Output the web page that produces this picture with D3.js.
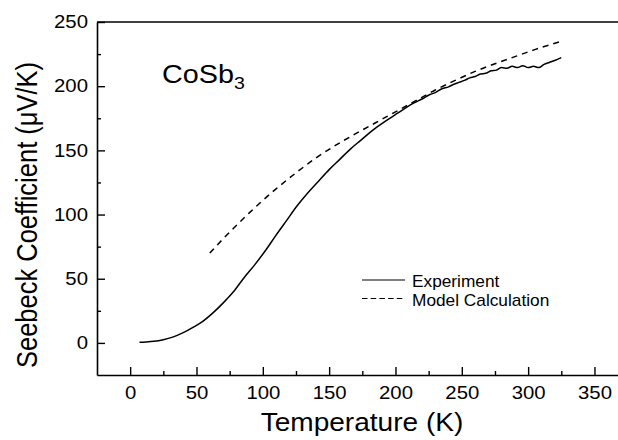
<!DOCTYPE html>
<html>
<head>
<meta charset="utf-8">
<script src="https://cdn.jsdelivr.net/npm/d3@7"></script>
<style>
  body { margin: 0; background: #fff; }
  svg { font-family: "Liberation Sans", Arial, Helvetica, sans-serif; }
</style>
</head>
<body>
<svg width="618" height="440"></svg>
<script>
var expT = [7, 12, 18, 25, 32, 40, 48, 55, 62, 70, 78, 86, 94, 102, 110, 118, 126, 134, 142, 150,
            158, 166, 174, 182, 190, 198, 206, 214, 220, 226, 230, 235, 240, 244, 248, 252, 256,
            260, 264, 268, 272, 276, 280, 284, 288, 292, 296, 300, 304, 308, 312, 316, 320, 325];
var expS = [0.5, 0.7, 1.2, 2.5, 4.5, 8, 12.5, 17, 23, 31, 40, 51, 61, 72, 84, 95.5, 107, 117, 126, 135,
            143, 151, 158, 165, 171, 176.5, 182, 187, 190, 193.5, 195, 198, 199.5, 201.5, 203, 204.5, 206.5,
            207.5, 209.5, 210, 212, 212.5, 214.5, 214, 215.5, 214.5, 216, 214.5, 215.5, 214.5, 217, 218.5, 220, 222.3];

// model calculation
var modT = [60, 70, 80, 90, 100, 110, 125, 140, 155, 170, 185, 200, 215, 230, 245, 260, 275, 290, 305, 325];
var modS = [70, 81, 91.5, 101.5, 111, 120, 132.5, 144, 154, 163, 171.5, 180, 188.5, 197, 204.5, 211.5, 217.5, 223, 228.5, 235];

var xMajor = [0, 50, 100, 150, 200, 250, 300, 350];
var xMinor = [25, 75, 125, 175, 225, 275, 325];
var yMajor = [0, 50, 100, 150, 200, 250];
var yMinor = [25, 75, 125, 175, 225];

var svg = d3.select("svg");
var stretch = 1.13; // the scanned figure is a bit wider than it is tall

var x = d3.scaleLinear().domain([-25, 370]).range([97, 621]),
    y = d3.scaleLinear().domain([-25, 250]).range([375, 22]);

// frame (no right border in the original scan)
svg.append("line")
   .attr("x1", 97).attr("x2", 618).attr("y1", 22).attr("y2", 22)
   .attr("stroke", "#000").attr("stroke-width", 1.6);

// bottom axis, ticks pointing inward
svg.append("g").attr("transform", "translate(0,375)")
   .call(d3.axisBottom(x).tickValues(xMajor).tickSizeInner(-8).tickSizeOuter(0).tickPadding(11));
svg.append("g").attr("transform", "translate(0,375)")
   .call(d3.axisBottom(x).tickValues(xMinor).tickSizeInner(-4).tickSizeOuter(0).tickFormat(""))
   .select(".domain").remove();

svg.append("g").attr("transform", "translate(97,0)")
   .call(d3.axisLeft(y).tickValues(yMajor).tickSizeInner(-8).tickSizeOuter(0).tickPadding(8));
svg.append("g").attr("transform", "translate(97,0)")
   .call(d3.axisLeft(y).tickValues(yMinor).tickSizeInner(-4).tickSizeOuter(0).tickFormat(""))
   .select(".domain").remove();

svg.selectAll(".domain").attr("stroke-width", 1.6);
svg.selectAll(".tick line").attr("stroke-width", 1.4);
svg.selectAll(".tick text")
   .attr("font-size", 18)
   .attr("font-family", "Liberation Sans, Arial, sans-serif")
   .attr("fill", "#000")
   .attr("transform", "scale(" + stretch + ",1)");

// axis titles
svg.append("text")
   .attr("transform", "translate(362,431) scale(1.1,1)")
   .attr("text-anchor", "middle").attr("font-size", 25.5)
   .text("Temperature (K)");

svg.append("text")
   .attr("transform", "translate(37,215) scale(1.15,1) rotate(-90)")
   .attr("text-anchor", "middle").attr("font-size", 25.5)
   .text("Seebeck Coefficient (\u03BCV/K)");

// sample label
var lab = svg.append("text")
   .attr("transform", "translate(162,83) scale(1.15,1)")
   .attr("font-size", 25);
lab.append("tspan").text("CoSb");
lab.append("tspan").attr("font-size", 17).attr("dy", 6).text("3");

// curves
var line = d3.line()
   .x(function(d) { return x(d[0]); })
   .y(function(d) { return y(d[1]); })
   .curve(d3.curveMonotoneX);

svg.append("path")
   .datum(d3.zip(modT, modS))
   .attr("d", line)
   .attr("fill", "none").attr("stroke", "#000").attr("stroke-width", 1.5)
   .attr("stroke-dasharray", "6,5");

svg.append("path")
   .datum(d3.zip(expT, expS))
   .attr("d", line)
   .attr("fill", "none").attr("stroke", "#000").attr("stroke-width", 1.5);

// legend
var legend = [
  { name: "Experiment", dash: null, yy: 280 },
  { name: "Model Calculation", dash: "5.5,3.2", yy: 298.5 }
];
legend.forEach(function(d) {
  svg.append("line")
     .attr("x1", 362).attr("x2", 405).attr("y1", d.yy).attr("y2", d.yy)
     .attr("stroke", "#000").attr("stroke-width", 1.1)
     .attr("stroke-dasharray", d.dash);
  svg.append("text")
     .attr("transform", "translate(412," + (d.yy + 7) + ") scale(1.08,1)")
     .attr("font-size", 16)
     .text(d.name);
});
</script>
</body>
</html>
